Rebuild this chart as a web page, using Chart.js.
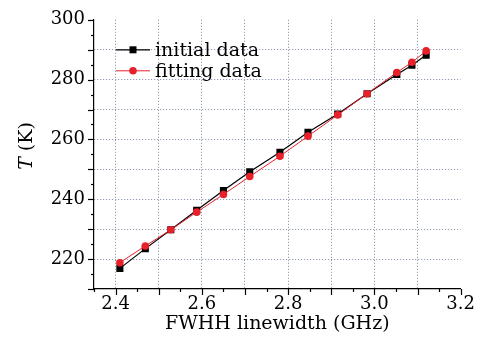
<!DOCTYPE html>
<html><head><meta charset="utf-8">
<script src="https://cdn.jsdelivr.net/npm/chart.js@4.4.1/dist/chart.umd.min.js"></script>
<style>html,body{margin:0;padding:0;background:#fff;} canvas{display:block;}</style>
</head><body>
<canvas id="c" width="480" height="348"></canvas>
<script>
const fwhh = [2.41, 2.469, 2.528, 2.588, 2.65, 2.711, 2.781, 2.846, 2.915, 2.983, 3.052, 3.087, 3.12];
const initialT = [216.9, 223.5, 229.8, 236.3, 242.9, 249.2, 255.7, 262.4, 268.5, 275.3, 281.7, 284.8, 288.2];
const fittingT = [218.8, 224.4, 229.8, 235.7, 241.6, 247.6, 254.4, 261.1, 268.2, 275.3, 282.4, 285.8, 289.6];
const seriesNames = ['initial data', 'fitting data'];
const xTitle = 'FWHH linewidth (GHz)';
const yTitleItalic = 'T';
const yTitleRest = ' (K)';
const xRange = [2.35, 3.2];
const yRange = [210, 300];

const FONT = '"DejaVu Serif", serif';
const FS = 18;
const BLACK = '#000000';
const RED = '#e8202a';
const GRID = 'rgba(100,115,145,0.85)';
const isMult = (v, s) => Math.abs(v / s - Math.round(v / s)) < 1e-6;

const pts = (ys) => fwhh.map((x, i) => ({x, y: ys[i]}));

const tickPlugin = {
  id: 'ticksAndTitles',
  afterDraw(chart) {
    const ctx = chart.ctx;
    const xs = chart.scales.x, ys = chart.scales.y;
    const ca = chart.chartArea;
    ctx.save();
    ctx.strokeStyle = BLACK;
    ctx.lineWidth = 1.2;
    xs.ticks.forEach(t => {
      const px = Math.round(xs.getPixelForValue(t.value)) + 0.5;
      const len = isMult(t.value, 0.1) ? 6 : 3;
      ctx.beginPath(); ctx.moveTo(px, ca.bottom); ctx.lineTo(px, ca.bottom + len); ctx.stroke();
    });
    ys.ticks.forEach(t => {
      const py = Math.round(ys.getPixelForValue(t.value)) + 0.5;
      const len = isMult(t.value, 10) ? 6 : 3;
      ctx.beginPath(); ctx.moveTo(ca.left, py); ctx.lineTo(ca.left - len, py); ctx.stroke();
    });
    // axis titles
    ctx.fillStyle = BLACK;
    ctx.textBaseline = 'middle';
    ctx.textAlign = 'center';
    ctx.font = `19px ${FONT}`;
    ctx.fillText(xTitle, (ca.left + ca.right) / 2, 324);
    ctx.save();
    ctx.translate(27, 146);
    ctx.rotate(-Math.PI / 2);
    ctx.font = `italic 19px ${FONT}`;
    const w1 = ctx.measureText(yTitleItalic).width;
    ctx.font = `19px ${FONT}`;
    const w2 = ctx.measureText(yTitleRest).width;
    ctx.textAlign = 'left';
    ctx.font = `italic 19px ${FONT}`;
    ctx.fillText(yTitleItalic, -(w1 + w2) / 2, 0);
    ctx.font = `19px ${FONT}`;
    ctx.fillText(yTitleRest, -(w1 + w2) / 2 + w1, 0);
    ctx.restore();
    // legend
    [0, 1].forEach((di, row) => {
      const ds = chart.data.datasets[di];
      const y = ca.top + 30 + row * 21;
      const x0 = ca.left + 22, x1 = x0 + 34;
      ctx.strokeStyle = ds.borderColor;
      ctx.lineWidth = ds.borderWidth;
      ctx.beginPath(); ctx.moveTo(x0, y); ctx.lineTo(x1, y); ctx.stroke();
      ctx.fillStyle = ds.pointBackgroundColor;
      if (ds.pointStyle === 'rect') {
        ctx.fillRect((x0 + x1) / 2 - 3.5, y - 3.5, 7, 7);
      } else {
        ctx.beginPath(); ctx.arc((x0 + x1) / 2, y, ds.pointRadius, 0, Math.PI * 2); ctx.fill();
      }
      ctx.fillStyle = BLACK;
      ctx.textAlign = 'left';
      ctx.textBaseline = 'middle';
      ctx.font = `19px ${FONT}`;
      ctx.fillText(ds.label, x1 + 5, y + 1);
    });
    ctx.restore();
  }
};

new Chart(document.getElementById('c'), {
  type: 'line',
  data: {
    datasets: [
      {label: seriesNames[0], data: pts(initialT), borderColor: BLACK, backgroundColor: BLACK,
       pointBackgroundColor: BLACK, pointBorderColor: BLACK, pointStyle: 'rect', pointRadius: 5,
       pointBorderWidth: 0, borderWidth: 1.2, order: 1},
      {label: seriesNames[1], data: pts(fittingT), borderColor: RED, backgroundColor: RED,
       pointBackgroundColor: RED, pointBorderColor: RED, pointStyle: 'circle', pointRadius: 3.8,
       pointBorderWidth: 0, borderWidth: 1, order: 0}
    ]
  },
  options: {
    responsive: false,
    animation: false,
    devicePixelRatio: 1,
    layout: {padding: {top: 13, right: 16, left: 0, bottom: 0}},
    plugins: {legend: {display: false}, tooltip: {enabled: false}},
    scales: {
      x: {
        type: 'linear', min: xRange[0], max: xRange[1],
        afterFit: s => { s.height = 59; },
        ticks: {
          stepSize: 0.05, autoSkip: false, maxRotation: 0, padding: 5,
          color: BLACK, font: {family: FONT, size: FS},
          callback: v => isMult(v, 0.2) ? v.toFixed(1) : ''
        },
        grid: {
          drawTicks: false, lineWidth: 1,
          color: c => (c.tick && isMult(c.tick.value, 0.1) && c.tick.value > xRange[0] + 1e-6 && c.tick.value < xRange[1] - 1e-6) ? GRID : 'rgba(0,0,0,0)'
        },
        border: {display: true, color: BLACK, width: 1.2, dash: [1, 2]}
      },
      y: {
        type: 'linear', min: yRange[0], max: yRange[1],
        afterFit: s => { s.width = 94; },
        ticks: {
          stepSize: 5, autoSkip: false, padding: 9,
          color: BLACK, font: {family: FONT, size: FS},
          callback: v => isMult(v, 20) ? String(v) : ''
        },
        grid: {
          drawTicks: false, lineWidth: 1,
          color: c => (c.tick && isMult(c.tick.value, 10) && c.tick.value > yRange[0] + 1e-6 && c.tick.value < yRange[1] - 1e-6) ? GRID : 'rgba(0,0,0,0)'
        },
        border: {display: true, color: BLACK, width: 1.2, dash: [1, 2]}
      }
    }
  },
  plugins: [tickPlugin]
});
</script>
</body></html>
